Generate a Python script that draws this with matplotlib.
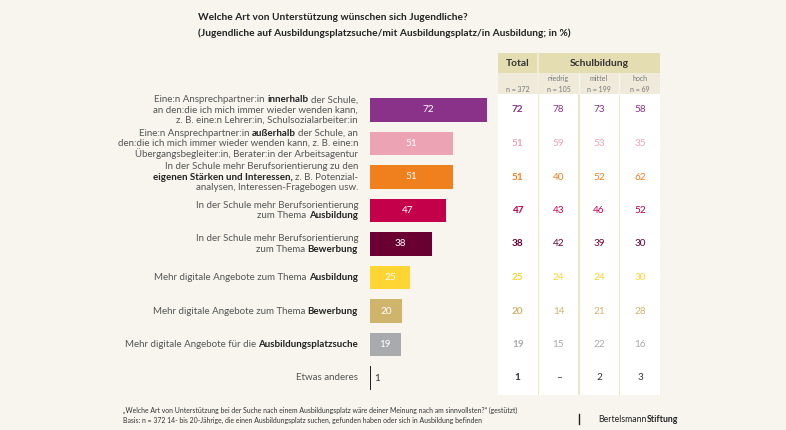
import matplotlib
matplotlib.use('Agg')
import matplotlib.pyplot as plt
from matplotlib.patches import Rectangle

plt.rcParams['font.family'] = ['Lato', 'DejaVu Sans']

# Data (text between * is bold)
labels = [
    ["Eine:n Ansprechpartner:in *innerhalb* der Schule,",
     "an den:die ich mich immer wieder wenden kann,",
     "z. B. eine:n Lehrer:in, Schulsozialarbeiter:in"],
    ["Eine:n Ansprechpartner:in *außerhalb* der Schule, an",
     "den:die ich mich immer wieder wenden kann, z. B. eine:n",
     "Übergangsbegleiter:in, Berater:in der Arbeitsagentur"],
    ["In der Schule mehr Berufsorientierung zu den",
     "*eigenen Stärken und Interessen,* z. B. Potenzial-",
     "analysen, Interessen-Fragebogen usw."],
    ["In der Schule mehr Berufsorientierung",
     "zum Thema *Ausbildung*"],
    ["In der Schule mehr Berufsorientierung",
     "zum Thema *Bewerbung*"],
    ["Mehr digitale Angebote zum Thema *Ausbildung*"],
    ["Mehr digitale Angebote zum Thema *Bewerbung*"],
    ["Mehr digitale Angebote für die *Ausbildungsplatzsuche*"],
    ["Etwas anderes"],
]
total = [72, 51, 51, 47, 38, 25, 20, 19, 1]
niedrig = [78, 59, 40, 43, 42, 24, 14, 15, None]
mittel = [73, 53, 52, 46, 39, 24, 21, 22, 2]
hoch = [58, 35, 62, 52, 30, 30, 28, 16, 3]
colors = ['#8a3189', '#eca4b4', '#f07f1d', '#c5004b', '#6a0032',
          '#fed532', '#cfb46c', '#a9aaae', '#222222']

col_heads = ['niedrig', 'mittel', 'hoch']
col_n = ['n = 372', 'n = 105', 'n = 199', 'n = 69']

title = ["Welche Art von Unterstützung wünschen sich Jugendliche?",
         "(Jugendliche auf Ausbildungsplatzsuche/mit Ausbildungsplatz/in Ausbildung; in %)"]
foot = ["\u201eWelche Art von Unterstützung bei der Suche nach einem Ausbildungsplatz wäre deiner Meinung nach am sinnvollsten?\u201c (gestützt)",
        "Basis: n = 372 14- bis 20-Jährige, die einen Ausbildungsplatz suchen, gefunden haben oder sich in Ausbildung befinden"]

# layout (pixels)
W, H = 786, 430
bg_col = '#f8f5ee'
row0, row_step = 110, 33.5
px_per_unit = 1.632

fig = plt.figure(figsize=(W / 100, H / 100), dpi=100, facecolor=bg_col)
bg = fig.add_axes([0, 0, 1, 1], zorder=0)
bg.set_xlim(0, W)
bg.set_ylim(H, 0)
bg.axis('off')
bg.set_facecolor(bg_col)
renderer = fig.canvas.get_renderer()


def rich_line(x_right, y, line, size, color='#555555', bold_color='#222222'):
    # right-aligned line with mixed regular / bold pieces
    parts = line.split('*')
    sp = bg.text(0, 0, 'a a', fontsize=size)
    sp2 = bg.text(0, 0, 'aa', fontsize=size)
    sw = sp.get_window_extent(renderer).width - sp2.get_window_extent(renderer).width
    sp.remove()
    sp2.remove()
    pieces = []
    width = 0
    for i, p in enumerate(parts):
        if p == '':
            continue
        b = i % 2 == 1
        t = bg.text(0, y, p.strip(), fontsize=size, ha='left', va='center',
                    fontweight='bold' if b else 'normal',
                    color=bold_color if b else color)
        w = t.get_window_extent(renderer).width
        lead = (len(p) - len(p.lstrip())) * sw
        trail = (len(p) - len(p.rstrip())) * sw
        pieces.append((t, lead, w, trail))
        width += lead + w + trail
    cur = x_right - width
    for t, lead, w, trail in pieces:
        cur += lead
        t.set_x(cur)
        cur += w + trail


# title
bg.text(198, 18, title[0], fontsize=7.25, fontweight='bold', color='#222222', va='center')
bg.text(198, 33, title[1], fontsize=7.25, fontweight='bold', color='#222222', va='center')

# table background
cols = [(498, 537.5), (539, 578), (579.5, 618.5), (620, 660)]
bg.add_patch(Rectangle((498, 53), 162, 20, color='#e5ddb2', lw=0))
bg.add_patch(Rectangle((498, 73), 162, 21, color='#efeada', lw=0))
bg.add_patch(Rectangle((498, 94), 162, 301, color='#efe6c6', lw=0))
for x0, x1 in cols:
    bg.add_patch(Rectangle((x0, 94), x1 - x0, 301, color='white', lw=0))
bg.plot([538.3, 538.3], [53, 94], color='#f4efdd', lw=1.2)
for xs in (578.7, 619.3):
    bg.plot([xs, xs], [73, 94], color='#f8f5ea', lw=1.0)

centers = [(a + b) / 2 for a, b in cols]
bg.text(centers[0], 63, 'Total', fontsize=7.4, fontweight='bold', color='#333333',
        ha='center', va='center')
bg.text((cols[1][0] + cols[3][1]) / 2, 63, 'Schulbildung', fontsize=7.4,
        fontweight='bold', color='#333333', ha='center', va='center')
for c, h in zip(centers[1:], col_heads):
    bg.text(c, 78.5, h, fontsize=5, color='#777777', ha='center', va='center')
for c, n in zip(centers, col_n):
    bg.text(c, 89, n, fontsize=5, color='#777777', ha='center', va='center')

# labels and table values
for i, lines in enumerate(labels):
    yc = row0 + i * row_step
    n = len(lines)
    for j, line in enumerate(lines):
        rich_line(358, yc + (j - (n - 1) / 2) * 10.2, line, 7.0)
    for k, vals in enumerate([total, niedrig, mittel, hoch]):
        v = vals[i]
        bg.text(centers[k], yc, '–' if v is None else str(v), fontsize=7.2,
                fontweight='bold' if k == 0 else 'normal',
                color=colors[i] if i < 8 else '#333333', ha='center', va='center')

# bars
ax = fig.add_axes([369.5 / W, (H - 395) / H, 120 / W, 302 / H], zorder=1)
ax.patch.set_alpha(0)
ax.set_xlim(0, 120 / px_per_unit)
ax.set_ylim(8.507, -0.507)
ax.axis('off')
ypos = list(range(len(total)))
ax.barh(ypos, total, height=0.69, color=colors, edgecolor='none')
for y, v in zip(ypos, total):
    if v > 5:
        ax.text(v / 2, y, str(v), ha='center', va='center', fontsize=7.2, color='white')
    else:
        ax.text(v + 2, y, str(v), ha='left', va='center', fontsize=7.2, color='#333333')

# footnote and logo
bg.text(123, 410, foot[0], fontsize=4.95, color='#333333', va='center')
bg.text(123, 420.5, foot[1], fontsize=4.95, color='#333333', va='center')
bg.plot([578.5, 578.5], [414, 424], color='#222222', lw=1)
rich_line(678, 419, "Bertelsmann*Stiftung*", 6.3, color='#222222', bold_color='#222222')

fig.savefig('out.png', dpi=100, facecolor=bg_col)
